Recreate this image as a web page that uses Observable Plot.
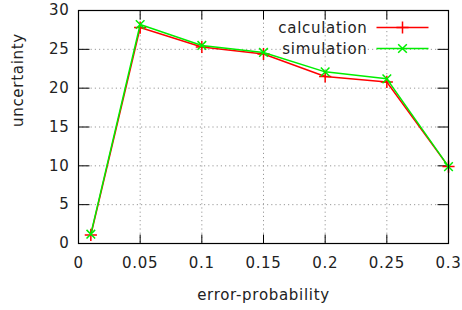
<!DOCTYPE html>
<html>
<head>
<meta charset="utf-8">
<script src="https://cdn.jsdelivr.net/npm/d3@7"></script>
<script src="https://cdn.jsdelivr.net/npm/@observablehq/plot@0.6"></script>
<style>
  html, body { margin: 0; padding: 0; background: #fff; }
  #chart svg { display: block; }
  #chart svg text { letter-spacing: 0.7px; }
</style>
</head>
<body>
<div id="chart"></div>
<script>
const errorProbability = [0.01, 0.05, 0.1, 0.15, 0.2, 0.25, 0.3];
const calculation = [1.1, 27.8, 25.3, 24.4, 21.5, 20.8, 9.9];
const simulation = [1.2, 28.2, 25.5, 24.6, 22.1, 21.2, 9.9];
const xTicks = [0, 0.05, 0.1, 0.15, 0.2, 0.25, 0.3];
const yTicks = [0, 5, 10, 15, 20, 25, 30];
const seriesNames = ["calculation", "simulation"];
const xLabel = "error-probability";
const yLabel = "uncertainty";

const calcData = errorProbability.map((x, i) => ({x, y: calculation[i]}));
const simData = errorProbability.map((x, i) => ({x, y: simulation[i]}));

const FONT = "DejaVu Sans, sans-serif";
const RED = "#ff0000", GREEN = "#00ee00";

const seg = (dx, dy) => ({draw(ctx) { ctx.moveTo(0, 0); ctx.lineTo(dx, dy); }});
const tickStyle = {stroke: "#000", fill: "none", strokeWidth: 1};

const innerY = yTicks.filter(d => d > yTicks[0] && d < yTicks[yTicks.length - 1]);
const innerX = xTicks.filter(d => d > xTicks[0] && d < xTicks[xTicks.length - 1]);

const chart = Plot.plot({
  width: 462,
  height: 310,
  marginLeft: 78,
  marginRight: 14,
  marginTop: 10,
  marginBottom: 67,
  style: {fontFamily: FONT, fontSize: "15px", color: "#222", background: "#fff"},
  x: {domain: [0, 0.3], label: null},
  y: {domain: [0, 30], label: null},
  marks: [
    Plot.gridX(innerX, {stroke: "#999", strokeOpacity: 1, strokeDasharray: "1.2,3"}),
    Plot.gridY(innerY, {stroke: "#999", strokeOpacity: 1, strokeDasharray: "1.2,3"}),
    Plot.axisX(xTicks, {tickSize: 0, tickPadding: 14, tickFormat: d => String(d), fontSize: 15, fill: "#222", label: null}),
    Plot.axisY(yTicks, {tickSize: 0, tickPadding: 9, fontSize: 15, fill: "#222", label: null}),
    Plot.dot(innerY, {y: d => d, frameAnchor: "left", symbol: seg(11, 0), ...tickStyle}),
    Plot.dot(innerY, {y: d => d, frameAnchor: "right", symbol: seg(-11, 0), ...tickStyle}),
    Plot.dot(innerX, {x: d => d, frameAnchor: "bottom", symbol: seg(0, -9), ...tickStyle}),
    Plot.dot(innerX, {x: d => d, frameAnchor: "top", symbol: seg(0, 9), ...tickStyle}),
    Plot.line(calcData, {x: "x", y: "y", stroke: RED, strokeWidth: 1.5}),
    Plot.dot(calcData, {x: "x", y: "y", symbol: "plus", r: 4, stroke: RED, strokeWidth: 1.5}),
    Plot.line(simData, {x: "x", y: "y", stroke: GREEN, strokeWidth: 1.5}),
    Plot.dot(simData, {x: "x", y: "y", symbol: "times", r: 4, stroke: GREEN, strokeWidth: 1.5}),
    Plot.frame({stroke: "#000", strokeWidth: 1.2}),
    // legend
    Plot.text([seriesNames[0]], {frameAnchor: "top-right", lineAnchor: "middle", dx: -81, dy: 18, textAnchor: "end", fontSize: 15, fill: "#222"}),
    Plot.text([seriesNames[1]], {frameAnchor: "top-right", lineAnchor: "middle", dx: -81, dy: 39, textAnchor: "end", fontSize: 15, fill: "#222"}),
    Plot.dot([seriesNames[0]], {frameAnchor: "top-right", dx: -20, dy: 17, symbol: seg(-52, 0), stroke: RED, fill: "none", strokeWidth: 1.5}),
    Plot.dot([seriesNames[0]], {frameAnchor: "top-right", dx: -46, dy: 17, symbol: "plus", r: 4, stroke: RED, strokeWidth: 1.5}),
    Plot.dot([seriesNames[1]], {frameAnchor: "top-right", dx: -20, dy: 38, symbol: seg(-52, 0), stroke: GREEN, fill: "none", strokeWidth: 1.5}),
    Plot.dot([seriesNames[1]], {frameAnchor: "top-right", dx: -46, dy: 38, symbol: "times", r: 4, stroke: GREEN, strokeWidth: 1.5}),
    // axis titles
    Plot.text([xLabel], {frameAnchor: "bottom", lineAnchor: "middle", dy: 52, fontSize: 15, fill: "#222"}),
    Plot.text([yLabel], {frameAnchor: "left", dx: -60, rotate: -90, fontSize: 15, fill: "#222"})
  ]
});
document.getElementById("chart").appendChild(chart);
</script>
</body>
</html>
